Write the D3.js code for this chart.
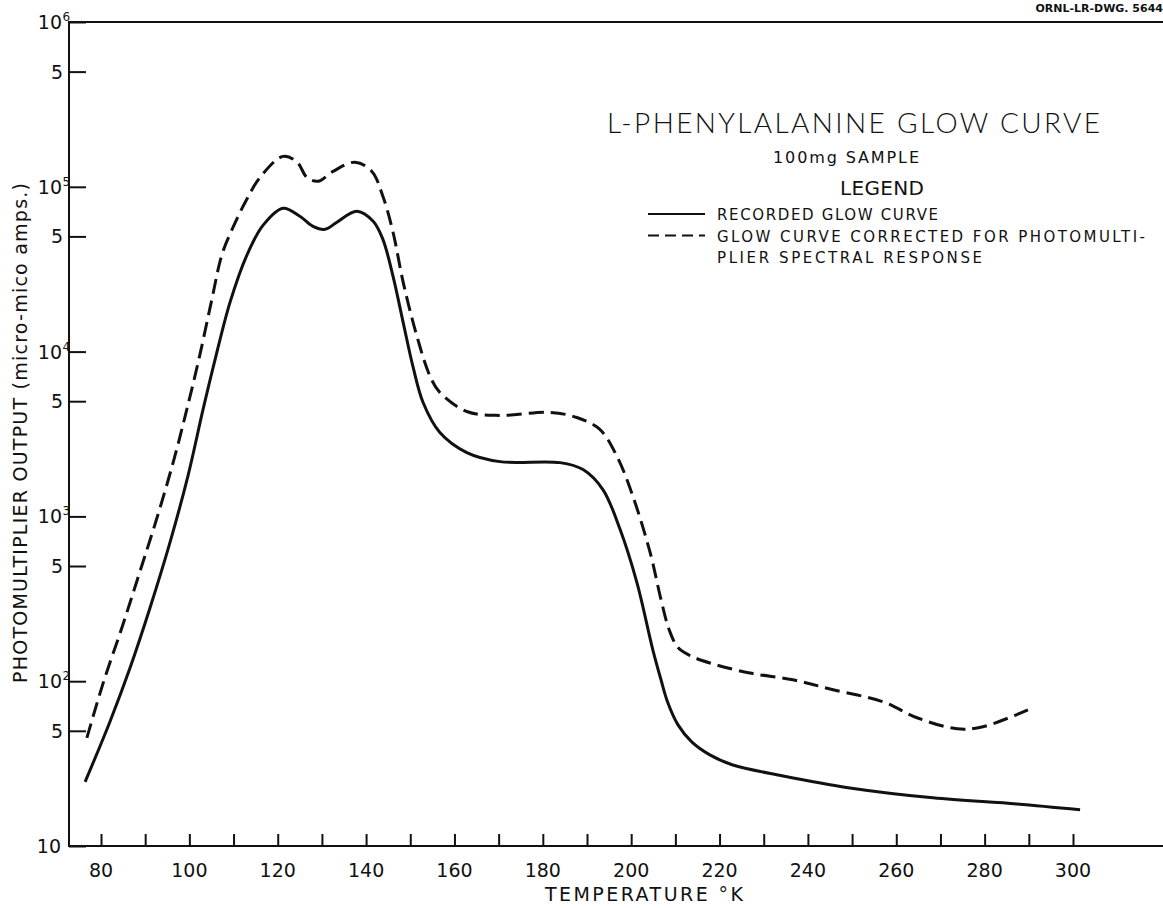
<!DOCTYPE html>
<html>
<head>
<meta charset="utf-8">
<script src="https://cdn.jsdelivr.net/npm/d3@7"></script>
<style>
  body { margin: 0; background: #fff; }
  svg { display: block; }
  text { font-family: "DejaVu Sans", "Liberation Sans", sans-serif; fill: #111; }
</style>
</head>
<body>
<svg id="chart"></svg>
<script>
// temperature (deg K) and photomultiplier output
const recordedT = [76.4, 82, 86.6, 91.1, 95.6, 99.7, 103.1, 106, 109.2, 113, 116.7, 121.2, 125, 128, 130.7, 133.4, 137.9, 141.6, 143.8, 146.1, 148.4, 150.6, 152.9, 156.7, 162.8, 170.3, 183.9, 189.1, 193.6, 197.5, 201.3, 204.9, 206.75, 208.3, 210.6, 213.7, 217.8, 223, 234.4, 249.5, 268.3, 287.3, 301.6];
const recordedV = [24.5, 56.6, 121, 279, 693, 1770, 4460, 9360, 19900, 38400, 58500, 74100, 66200, 57600, 55200, 61000, 71100, 61800, 48000, 28600, 15000, 8130, 4910, 3230, 2440, 2150, 2120, 1925, 1455, 832, 396, 155, 102, 74, 54.3, 42.8, 35.7, 31, 26.6, 22.5, 19.6, 18, 16.6];

const correctedT = [76.8, 80.5, 84.8, 88.8, 92.9, 96.7, 99.7, 102.4, 105.1, 107.4, 109.9, 113, 116, 121.2, 124.4, 126.6, 129.1, 132.5, 137.5, 141.3, 143.8, 146.1, 148.4, 151.5, 154.5, 156.7, 162.8, 170.3, 181.6, 187.7, 192.9, 196.8, 200.4, 204.3, 206.75, 208.6, 210.6, 213.3, 217.8, 226.9, 236.6, 245.7, 257, 264.7, 273.8, 279.6, 289.8];
const correctedV = [45.3, 97.7, 214, 462, 1026, 2310, 4780, 9620, 20800, 39000, 56900, 84100, 114000, 153000, 141000, 114000, 108000, 124000, 141000, 124000, 87700, 53000, 26300, 12400, 7060, 5650, 4330, 4100, 4280, 3980, 3370, 2310, 1320, 602, 313, 205, 160, 143, 129, 112, 102, 88.7, 75, 60, 51.4, 52.9, 67];

const xTicks = d3.range(80, 301, 10);
const xTickLabels = [80, 100, 120, 140, 160, 180, 200, 220, 240, 260, 280, 300];
const yTicks = [10, 50, 100, 500, 1000, 5000, 10000, 50000, 100000, 500000, 1000000];

const W = 1163, H = 908;
const svg = d3.select('#chart').attr('width', W).attr('height', H);

const frame = { left: 69, top: 22, bottom: 846, right: W };

const x = d3.scaleLinear().domain([80, 300]).range([101, 1073]);
const y = d3.scaleLog().domain([10, 1e6]).range([frame.bottom, frame.top]);

// frame: left axis, bottom axis, top rule
svg.append('path')
  .attr('d', `M${frame.right},${frame.top}H${frame.left}V${frame.bottom}H${frame.right}`)
  .attr('fill', 'none').attr('stroke', '#111').attr('stroke-width', 2);

// x ticks (pointing up)
const xAxis = d3.axisBottom(x).tickValues(xTicks).tickSize(-12).tickFormat('');
const xg = svg.append('g').attr('transform', `translate(0,${frame.bottom})`).call(xAxis);
xg.select('.domain').remove();
xg.selectAll('line').attr('stroke', '#111').attr('stroke-width', 2);

svg.append('g').selectAll('text').data(xTickLabels).join('text')
  .attr('x', d => x(d)).attr('y', frame.bottom + 31)
  .attr('text-anchor', 'middle')
  .style('font-size', '19px')
  .text(d => d);

// y ticks (pointing right)
const yAxis = d3.axisLeft(y).tickValues(yTicks).tickSize(-17).tickFormat('');
const yg = svg.append('g').attr('transform', `translate(${frame.left},0)`).call(yAxis);
yg.select('.domain').remove();
yg.selectAll('line').attr('stroke', '#111').attr('stroke-width', 2);

const ylab = svg.append('g');
yTicks.forEach(d => {
  const e = Math.round(Math.log10(d));
  const isPow = Math.abs(d - Math.pow(10, e)) < 1e-6;
  ylab.append('text')
    .attr('x', isPow ? (e === 1 ? 61 : 62) : 63).attr('y', y(d) + 7)
    .attr('text-anchor', 'end')
    .style('font-size', '19px')
    .text(isPow ? '10' : '5');
  if (isPow && e > 1) {
    ylab.append('text')
      .attr('x', 62.5).attr('y', y(d) - 1)
      .style('font-size', '12px')
      .text(e);
  }
});

// curves
const line = d3.line()
  .x(d => x(d[0]))
  .y(d => y(d[1]))
  .curve(d3.curveCatmullRom.alpha(0.5));

svg.append('path')
  .datum(d3.zip(recordedT, recordedV))
  .attr('d', line)
  .attr('fill', 'none').attr('stroke', '#111').attr('stroke-width', 3);

svg.append('path')
  .datum(d3.zip(correctedT, correctedV))
  .attr('d', line)
  .attr('fill', 'none').attr('stroke', '#111').attr('stroke-width', 3)
  .attr('stroke-dasharray', '15,7');

// axis titles
svg.append('text')
  .attr('x', 545).attr('y', 901)
  .attr('textLength', 198).attr('lengthAdjust', 'spacing')
  .style('font-size', '19px')
  .text('TEMPERATURE  °K');

svg.append('text')
  .attr('transform', 'translate(27,683) rotate(-90)')
  .attr('textLength', 500).attr('lengthAdjust', 'spacing')
  .style('font-size', '19px')
  .text('PHOTOMULTIPLIER  OUTPUT  (micro-mico  amps.)');

// drawing number
svg.append('text')
  .attr('x', 1163).attr('y', 12)
  .attr('text-anchor', 'end')
  .style('font-size', '11px').style('font-weight', 'bold')
  .text('ORNL-LR-DWG. 5644');

// title block
svg.append('text')
  .attr('x', 607).attr('y', 133)
  .attr('textLength', 493).attr('lengthAdjust', 'spacing')
  .style('font-size', '28px').style('font-weight', '300')
  .style('font-family', 'Lato, "Open Sans", sans-serif')
  .text('L-PHENYLALANINE  GLOW  CURVE');

svg.append('text')
  .attr('x', 773).attr('y', 163)
  .attr('textLength', 146).attr('lengthAdjust', 'spacing')
  .style('font-size', '16px')
  .text('100mg  SAMPLE');

svg.append('text')
  .attr('x', 840).attr('y', 195)
  .attr('textLength', 84).attr('lengthAdjust', 'spacing')
  .style('font-size', '20px')
  .text('LEGEND');

const legendRows = ['RECORDED GLOW CURVE', 'GLOW CURVE CORRECTED FOR PHOTOMULTI-', 'PLIER SPECTRAL RESPONSE'];
const legendWidths = [221, 428, 265];
const legendDash = ['none', '11,6', null];
legendRows.forEach((label, i) => {
  const ly = 214 + i * 21.5;
  if (legendDash[i] !== null) {
    svg.append('line')
      .attr('x1', 648).attr('x2', 705).attr('y1', ly).attr('y2', ly)
      .attr('stroke', '#111').attr('stroke-width', 2)
      .attr('stroke-dasharray', legendDash[i]);
  }
  svg.append('text')
    .attr('x', 717).attr('y', ly + 6)
    .attr('textLength', legendWidths[i]).attr('lengthAdjust', 'spacing')
    .style('font-size', '15px')
    .text(label);
});
</script>
</body>
</html>
